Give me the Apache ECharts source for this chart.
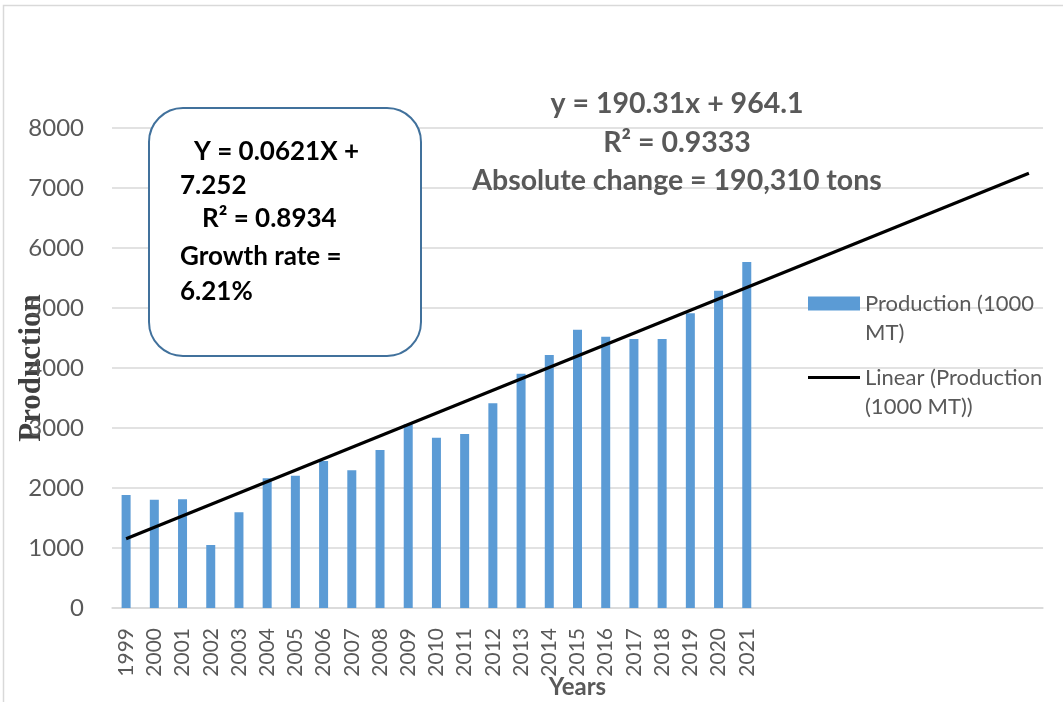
<!DOCTYPE html>
<html>
<head>
<meta charset="utf-8">
<title>Production (1000 MT), 1999–2021</title>
<script src="https://cdn.jsdelivr.net/npm/echarts@6/dist/echarts.min.js"></script>
<style>
  html, body { margin: 0; padding: 0; background: #fff; }
  #chart { width: 1063px; height: 702px; }
</style>
</head>
<body>
<div id="chart"></div>
<script>
// Annual production, thousand metric tons
const years = ['1999', '2000', '2001', '2002', '2003', '2004', '2005', '2006',
  '2007', '2008', '2009', '2010', '2011', '2012', '2013', '2014', '2015',
  '2016', '2017', '2018', '2019', '2020', '2021'];
const production = [1883, 1805, 1811, 1050, 1594, 2161, 2205, 2450, 2295,
  2633, 3061, 2839, 2900, 3414, 3906, 4217, 4639, 4522, 4483, 4483, 4911,
  5289, 5767];
// Forward-forecast slots the trendline runs through (no labels drawn)
const forecastYears = ['2022', '2023', '2024', '2025', '2026', '2027',
  '2028', '2029', '2030', '2031'];
// Linear trendline: y = 190.31x + 964.1, with x = 1 for the first year
const trendSlope = 190.31;
const trendIntercept = 964.1;
const yTicks = { min: 0, max: 8000, step: 1000 };

const categories = years.concat(forecastYears);
const trend = categories.map((_, i) =>
  (i === 0 || i === categories.length - 1) ? trendSlope * (i + 1) + trendIntercept : null);

const GREY = '#595959';
const GRID = '#D9D9D9';
const SANS = 'Lato, "Open Sans", sans-serif';

const chart = echarts.init(document.getElementById('chart'), null, { renderer: 'canvas' });

const boxLines = [
  { text: 'Y = 0.0621X +', x: 194, y: 152 },
  { text: '7.252', x: 180, y: 186 },
  { text: 'R² = 0.8934', x: 202, y: 219 },
  { text: 'Growth rate =', x: 180, y: 257 },
  { text: '6.21%', x: 180, y: 292 }
];
const trendLines = [
  { text: 'y = 190.31x + 964.1', y: 104 },
  { text: 'R² = 0.9333', y: 143 },
  { text: 'Absolute change = 190,310 tons', y: 181 }
];

// Legend text: a blank first line keeps the icon level with the first text line
const legendText = { color: GREY, fontFamily: SANS, fontSize: 22, lineHeight: 29 };

chart.setOption({
  animation: false,
  backgroundColor: '#fff',
  grid: { left: 112, right: 20, top: 128, bottom: 94, containLabel: false, outerBoundsMode: 'none' },
  xAxis: {
    type: 'category',
    data: categories,
    boundaryGap: true,
    axisLine: { lineStyle: { color: GRID, width: 1.5 } },
    axisTick: { show: false },
    axisLabel: {
      rotate: 90,
      interval: 0,
      margin: 20,
      color: GREY,
      fontFamily: SANS,
      fontSize: 21,
      formatter: (v, i) => (i < years.length ? v : '')
    },
    name: 'Years',
    nameLocation: 'middle',
    nameGap: 67,
    nameMoveOverlap: false,
    nameTextStyle: { color: GREY, fontFamily: SANS, fontWeight: 'bold', fontSize: 24 }
  },
  yAxis: {
    type: 'value',
    min: yTicks.min,
    max: yTicks.max,
    interval: yTicks.step,
    axisLine: { show: false },
    axisTick: { show: false },
    splitLine: { lineStyle: { color: GRID, width: 1.5 } },
    axisLabel: { margin: 28, color: GREY, fontFamily: SANS, fontSize: 24, formatter: v => String(v) },
    name: 'Production',
    nameLocation: 'middle',
    nameRotate: 90,
    nameGap: 65,
    nameMoveOverlap: false,
    nameTextStyle: {
      color: '#404040', fontFamily: '"Liberation Serif", "Times New Roman", serif',
      fontWeight: 'bold', fontSize: 31
    }
  },
  legend: [
    {
      data: ['Production (1000 MT)'],
      orient: 'vertical',
      left: 803, top: 255,
      icon: 'rect',
      itemWidth: 52, itemHeight: 14,
      formatter: () => '\nProduction (1000\nMT)',
      textStyle: legendText
    },
    {
      data: ['Linear (Production (1000 MT))'],
      orient: 'vertical',
      left: 803, top: 329,
      icon: 'rect',
      itemWidth: 52, itemHeight: 3,
      formatter: () => '\nLinear (Production\n(1000 MT))',
      textStyle: legendText
    }
  ],
  series: [
    {
      name: 'Production (1000 MT)',
      type: 'bar',
      data: production,
      barWidth: 9,
      itemStyle: { color: '#5B9BD5' }
    },
    {
      name: 'Linear (Production (1000 MT))',
      type: 'line',
      data: trend,
      connectNulls: true,
      showSymbol: false,
      symbol: 'none',
      color: '#000',
      lineStyle: { color: '#000', width: 3.2 },
      z: 5
    }
  ],
  graphic: [
    {
      type: 'rect',
      silent: true,
      shape: { x: 3.5, y: 5.5, width: 1100, height: 720 },
      style: { fill: 'none', stroke: GRID, lineWidth: 1.5 },
      z: 0
    },
    {
      type: 'rect',
      shape: { x: 149, y: 108, width: 272, height: 248, r: 34 },
      style: { fill: '#fff', stroke: '#41719C', lineWidth: 2 },
      z: 10
    },
    ...boxLines.map(l => ({
      type: 'text',
      x: l.x, y: l.y,
      style: {
        text: l.text, fill: '#000', font: 'bold 26px ' + SANS,
        align: 'left', verticalAlign: 'middle'
      },
      z: 11
    })),
    ...trendLines.map(l => ({
      type: 'text',
      x: 677, y: l.y,
      style: {
        text: l.text, fill: GREY, font: 'bold 28.5px ' + SANS,
        align: 'center', verticalAlign: 'middle'
      },
      z: 11
    }))
  ]
});
</script>
</body>
</html>
